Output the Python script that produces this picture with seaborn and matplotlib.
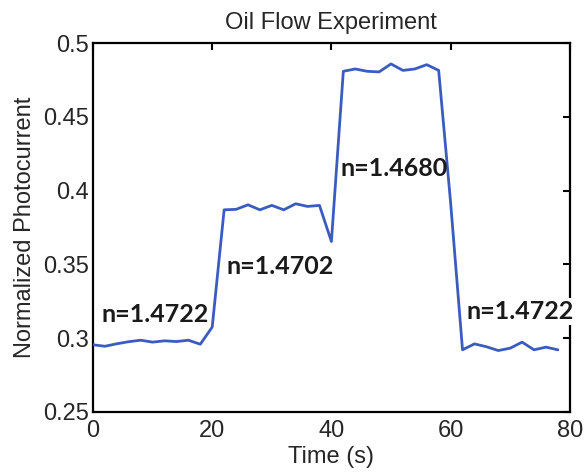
import numpy as np
import pandas as pd
import matplotlib
matplotlib.use("Agg")
import matplotlib.pyplot as plt
import seaborn as sns

# Sampled photocurrent (every 2 s) while oils of different index flow past
time_s = [0, 2, 4, 6, 8, 10, 12, 14, 16, 18,
          20, 22, 24, 26, 28, 30, 32, 34, 36, 38,
          40, 42, 44, 46, 48, 50, 52, 54, 56, 58,
          60, 62, 64, 66, 68, 70, 72, 74, 76, 78]
photocurrent = [0.2955, 0.2945, 0.2962, 0.2976, 0.2986, 0.2973, 0.2982, 0.2977, 0.2986, 0.2959,
                0.3075, 0.3870, 0.3873, 0.3904, 0.3870, 0.3900, 0.3870, 0.3911, 0.3893, 0.3900,
                0.3655, 0.4809, 0.4825, 0.4809, 0.4805, 0.4859, 0.4815, 0.4825, 0.4854, 0.4815,
                0.3920, 0.2921, 0.2961, 0.2942, 0.2916, 0.2932, 0.2973, 0.2921, 0.2939, 0.2921]

# Refractive index labels and where they sit (time, photocurrent)
index_labels = ["n=1.4722", "n=1.4702", "n=1.4680", "n=1.4722"]
label_t = [10.4, 31.4, 50.5, 71.7]
label_v = [0.3158, 0.3487, 0.4149, 0.3182]

x_ticks = [0, 20, 40, 60, 80]
y_ticks = [0.25, 0.30, 0.35, 0.40, 0.45, 0.50]
y_tick_labels = ["0.25", "0.3", "0.35", "0.4", "0.45", "0.5"]

df = pd.DataFrame({"Time (s)": time_s, "Normalized Photocurrent": photocurrent})

sns.set_style("white")
plt.rcParams["font.family"] = ["Liberation Sans", "DejaVu Sans"]

fig = plt.figure(figsize=(5.85, 4.74), dpi=100)
ax = fig.add_axes([0.159, 0.131, 0.815, 0.778])

sns.lineplot(data=df, x="Time (s)", y="Normalized Photocurrent", ax=ax,
             color="#3A5CC0", linewidth=2.0, zorder=3)

ax.set_xlim(0, 80)
ax.set_ylim(0.25, 0.5)
ax.set_xticks(x_ticks)
ax.set_xticklabels([str(v) for v in x_ticks])
ax.set_yticks(y_ticks)
ax.set_yticklabels(y_tick_labels)

text_color = "#262626"
ax.tick_params(axis="both", which="both", direction="in", length=5, width=1.5,
               top=True, right=True, labelsize=17, colors="black",
               labelcolor=text_color)
ax.tick_params(axis="x", pad=6)
ax.tick_params(axis="y", pad=3)
for side in ["left", "right", "top", "bottom"]:
    ax.spines[side].set_visible(True)
    ax.spines[side].set_color("black")
    ax.spines[side].set_linewidth(1.6)

ax.set_xlabel("Time (s)", fontsize=17, color=text_color, labelpad=3)
ax.set_ylabel("Normalized Photocurrent", fontsize=17, color=text_color, labelpad=5)
ax.set_title("Oil Flow Experiment", fontsize=17, color=text_color, pad=10)

for i, (lbl, tx, ty) in enumerate(zip(index_labels, label_t, label_v)):
    # the last label sits over the right frame and hides it behind a white box
    box = dict(facecolor="white", edgecolor="none", pad=1.5) if i == len(index_labels) - 1 else None
    ax.text(tx, ty, lbl, ha="center", va="center", fontsize=18,
            fontweight="bold", family=["Lato", "DejaVu Sans"], color="#1a1a1a",
            zorder=5, clip_on=False, bbox=box)

fig.savefig("out.png", dpi=100, facecolor="white")
